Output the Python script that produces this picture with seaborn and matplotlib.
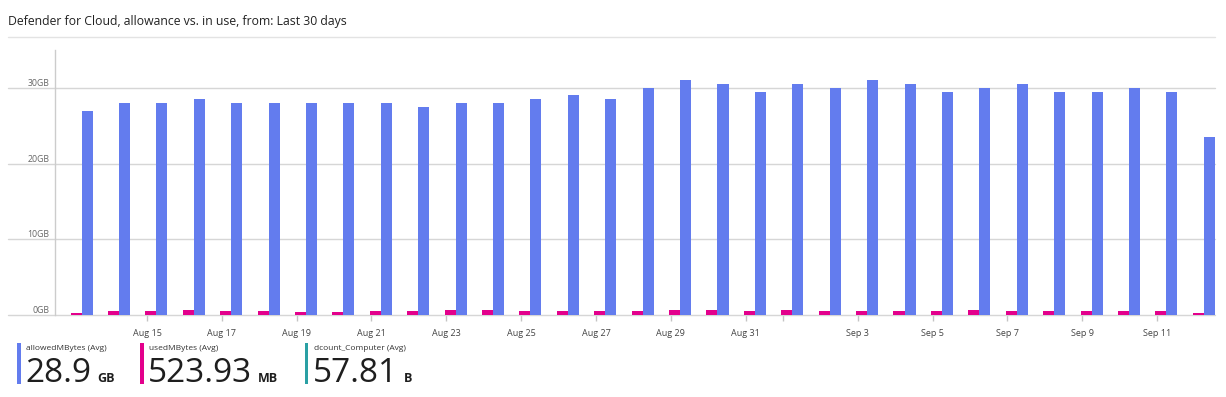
import matplotlib
matplotlib.use("Agg")
import matplotlib.pyplot as plt
import pandas as pd
import seaborn as sns
from matplotlib.lines import Line2D
from matplotlib.patches import Rectangle

sns.set_theme(style="white")
plt.rcParams["font.family"] = ["Open Sans", "DejaVu Sans"]

W, H = 1226, 397
BLUE = "#637CEE"
PINK = "#E3008C"
TEAL = "#2AA0A4"

# --- data (GB per day) ---
days = [
    "Aug 13", "Aug 14", "Aug 15", "Aug 16", "Aug 17", "Aug 18", "Aug 19", "Aug 20",
    "Aug 21", "Aug 22", "Aug 23", "Aug 24", "Aug 25", "Aug 26", "Aug 27", "Aug 28",
    "Aug 29", "Aug 30", "Aug 31", "Sep 1", "Sep 2", "Sep 3", "Sep 4", "Sep 5",
    "Sep 6", "Sep 7", "Sep 8", "Sep 9", "Sep 10", "Sep 11", "Sep 12",
]
allowed_gb = [
    27.0, 28.0, 28.0, 28.5, 28.0, 28.0, 28.0, 28.0, 28.0, 27.5, 28.0, 28.0, 28.5,
    29.0, 28.5, 30.0, 31.0, 30.5, 29.5, 30.5, 30.0, 31.0, 30.5, 29.5, 30.0, 30.5,
    29.5, 29.5, 30.0, 29.5, 23.5,
]
used_gb = [
    0.22, 0.50, 0.50, 0.64, 0.50, 0.50, 0.46, 0.46, 0.50, 0.55, 0.60, 0.60, 0.55,
    0.55, 0.55, 0.55, 0.60, 0.60, 0.55, 0.64, 0.50, 0.50, 0.50, 0.55, 0.64, 0.55,
    0.50, 0.50, 0.55, 0.55, 0.27,
]
tick_days = ["Aug 15", "Aug 17", "Aug 19", "Aug 21", "Aug 23", "Aug 25", "Aug 27",
             "Aug 29", "Aug 31", "Sep 1", "Sep 3", "Sep 5", "Sep 7", "Sep 9", "Sep 11"]
tick_labels = ["Aug 15", "Aug 17", "Aug 19", "Aug 21", "Aug 23", "Aug 25", "Aug 27",
               "Aug 29", "Aug 31", "", "Sep 3", "Sep 5", "Sep 7", "Sep 9", "Sep 11"]
y_ticks = [0, 10, 20, 30]

legend_labels = ["allowedMBytes (Avg)", "usedMBytes (Avg)", "dcount_Computer (Avg)"]
legend_values = ["28.9", "523.93", "57.81"]
legend_units = ["GB", "MB", "B"]
legend_colors = [BLUE, PINK, TEAL]

df = pd.DataFrame({
    "day": days * 2,
    "series": ["usedMBytes"] * len(days) + ["allowedMBytes"] * len(days),
    "gb": used_gb + allowed_gb,
})

fig = plt.figure(figsize=(W / 100, H / 100), dpi=100)
ax = fig.add_axes([55 / W, 82 / H, 1160 / W, 265 / H])

sns.barplot(
    data=df, x="day", y="gb", hue="series",
    hue_order=["usedMBytes", "allowedMBytes"], palette=[PINK, BLUE],
    width=0.59, errorbar=None, legend=False, linewidth=0, saturation=1,
    ax=ax, zorder=2,
)

ax.set_xlim(-0.71, 30.3)
ax.set_ylim(0, 35)
ax.set_xlabel("")
ax.set_ylabel("")

# y axis: labels sit above the gridlines, gridlines run past the axis
ax.set_yticks(y_ticks)
ax.set_yticklabels([f"{v}GB" for v in y_ticks], va="bottom", fontsize=6.3, color="#666666")
ax.tick_params(axis="y", length=0, pad=4)
for v in y_ticks:
    ax.axhline(v, xmin=-47 / 1160, xmax=1, color="#d6d6d6", lw=1, clip_on=False, zorder=1)

# x axis
ax.set_xticks([days.index(d) - 0.25 for d in tick_days])
ax.set_xticklabels(tick_labels, fontsize=6.5, color="#444444")
ax.tick_params(axis="x", bottom=True, length=4, width=1, color="#c4c4c4", pad=6)

for s in ["top", "right", "bottom"]:
    ax.spines[s].set_visible(False)
ax.spines["left"].set_color("#cccccc")
ax.spines["left"].set_linewidth(1)

# title + separator
fig.text(8 / W, 1 - 21 / H, "Defender for Cloud, allowance vs. in use, from: Last 30 days",
         va="center", ha="left", fontsize=8.8, color="#222222")
fig.add_artist(Line2D([8 / W, 1215 / W], [1 - 37 / H] * 2, color="#e3e3e3", lw=1))

# summary tiles
renderer = fig.canvas.get_renderer()
strip_x = [17, 140, 305]
for lab, val, unit, col, sx in zip(legend_labels, legend_values, legend_units,
                                   legend_colors, strip_x):
    fig.add_artist(Rectangle((sx / W, 1 - 384 / H), 3.5 / W, 41 / H,
                             transform=fig.transFigure, color=col, lw=0))
    tx = sx + 9
    fig.text(tx / W, 1 - 348 / H, lab, va="center", ha="left", fontsize=6.0, color="#333333")
    t = fig.text((tx - 1) / W, 1 - 382 / H, val, va="baseline", ha="left",
                 fontsize=24, color="#1e1e1e")
    bb = t.get_window_extent(renderer)
    fig.text((bb.x1 + 6) / W, 1 - 382 / H, unit, va="baseline", ha="left",
             fontsize=9, fontweight="bold", color="#1e1e1e")

fig.savefig("out.png", dpi=100)
